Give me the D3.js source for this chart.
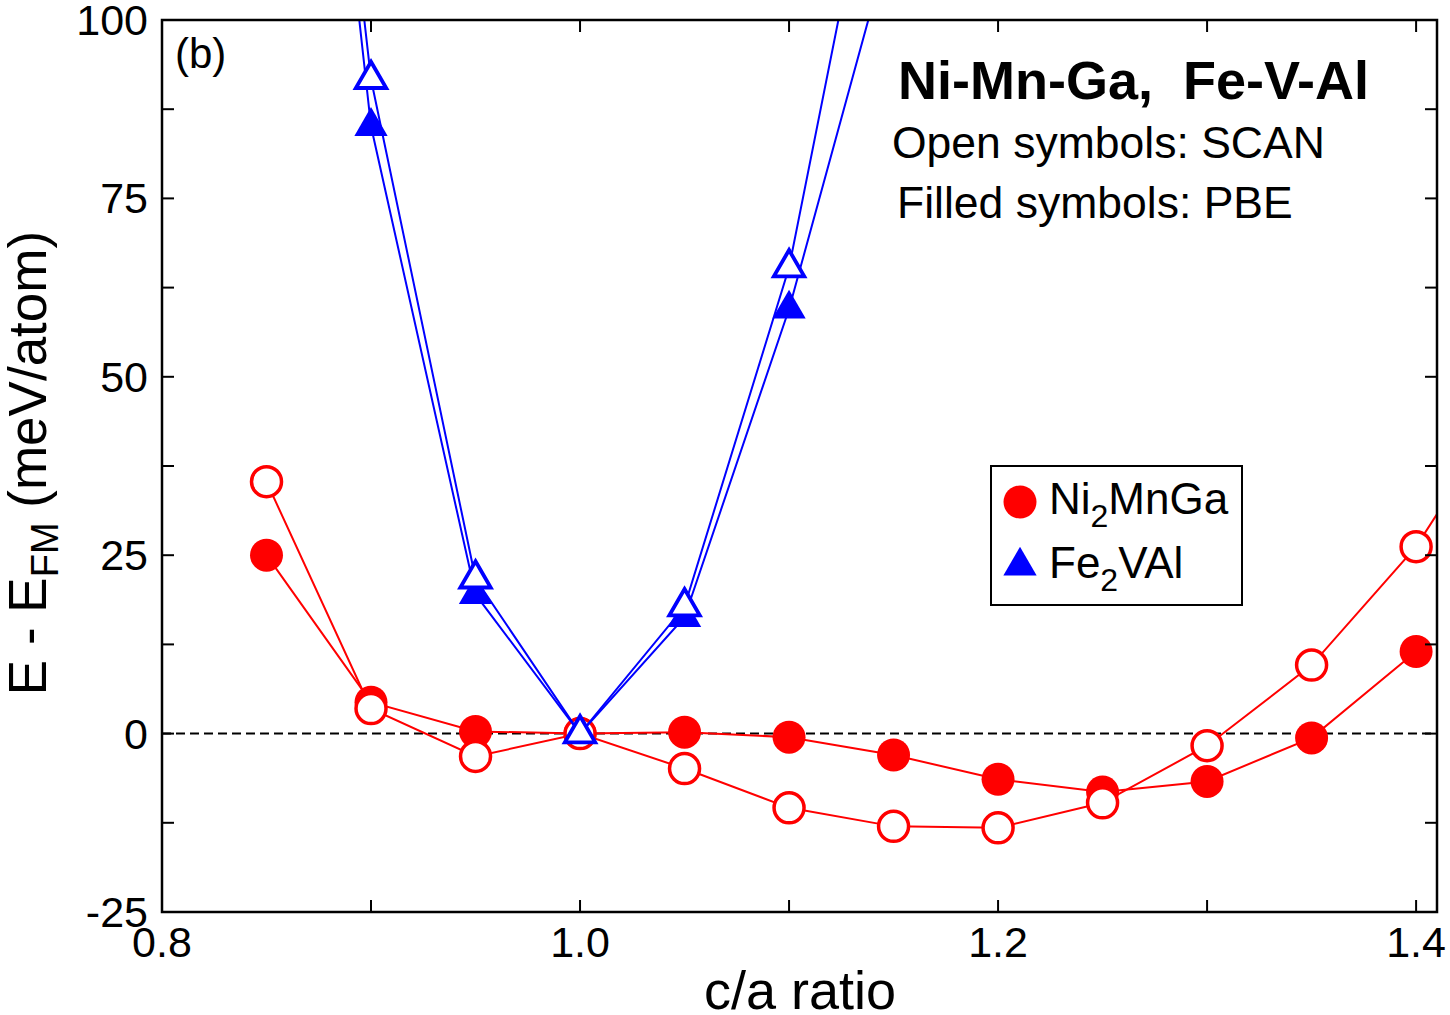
<!DOCTYPE html>
<head>
<script src="https://d3js.org/d3.v7.min.js"></script>
<meta charset="utf-8">
<style>
body { margin: 0; background: #fff; }
text { font-family: "Liberation Sans", Arial, Helvetica, sans-serif; fill: #000; }
</style>
</head>
<body>
<svg id="chart"></svg>
<script>

// data (E - E_FM in meV/atom)
var caNi = [0.85, 0.90, 0.95, 1.00, 1.05, 1.10, 1.15, 1.20, 1.25, 1.30, 1.35, 1.40, 1.45];
var niPBE = [25.0, 4.4, 0.3, 0, 0.2, -0.5, -3.0, -6.4, -8.2, -6.7, -0.6, 11.5];
var niSCAN = [35.3, 3.5, -3.2, 0, -4.9, -10.4, -13.0, -13.2, -9.7, -1.7, 9.6, 26.2, 49.0];

var caFe = [0.85, 0.90, 0.95, 1.00, 1.05, 1.10, 1.15];
var fePBE = [218, 85.1, 19.5, 0, 16.3, 59.5, 112.9];
var feSCAN = [221, 91.7, 21.7, 0, 17.8, 65.3, 138.8];

var xMajor = [0.8, 1.0, 1.2, 1.4];
var xAll = [0.8, 0.9, 1.0, 1.1, 1.2, 1.3, 1.4];
var yMajor = [-25, 0, 25, 50, 75, 100];
var yAll = [-25, -12.5, 0, 12.5, 25, 37.5, 50, 62.5, 75, 87.5, 100];

// chart parameters
var width = 1450, height = 1015;
var pLeft = 162, pRight = 1437, pTop = 20, pBottom = 912;
var red = "#ff0000", blue = "#0000ff";

var svg = d3.select("#chart")
    .attr("width", width)
    .attr("height", height);

var x = d3.scaleLinear().domain([0.8, 1.41]).range([pLeft, pRight]);
var y = d3.scaleLinear().domain([-25, 100]).range([pBottom, pTop]);

svg.append("clipPath").attr("id", "plotclip")
  .append("rect")
    .attr("x", pLeft).attr("y", pTop)
    .attr("width", pRight - pLeft).attr("height", pBottom - pTop);

// zero line
svg.append("line")
    .attr("x1", pLeft).attr("x2", pRight)
    .attr("y1", y(0)).attr("y2", y(0))
    .attr("stroke", "#000")
    .attr("stroke-width", 2)
    .attr("stroke-dasharray", "9,5");

var plot = svg.append("g").attr("clip-path", "url(#plotclip)");

function pairs(xs, ys) {
  return ys.map((v, i) => [xs[i], v]);
}

var line = d3.line().x(d => x(d[0])).y(d => y(d[1]));
var tri = d3.symbol().type(d3.symbolTriangle);

function drawSeries(pts, color, kind, open) {
  plot.append("path")
      .datum(pts)
      .attr("d", line)
      .attr("fill", "none")
      .attr("stroke", color)
      .attr("stroke-width", 2);
  var g = plot.append("g");
  if (kind == "circle") {
    g.selectAll("circle")
      .data(pts)
      .join("circle")
        .attr("cx", d => x(d[0]))
        .attr("cy", d => y(d[1]))
        .attr("r", open ? 15 : 16.5)
        .attr("fill", open ? "#fff" : color)
        .attr("stroke", open ? color : "none")
        .attr("stroke-width", 3.5);
  } else {
    g.selectAll("path")
      .data(pts)
      .join("path")
        .attr("transform", d => "translate(" + x(d[0]) + "," + y(d[1]) + ")")
        .attr("d", tri.size(open ? 400 : 480)())
        .attr("fill", open ? "#fff" : color)
        .attr("stroke", open ? color : "none")
        .attr("stroke-width", 3.8);
  }
}

drawSeries(pairs(caNi, niPBE), red, "circle", false);
drawSeries(pairs(caNi, niSCAN), red, "circle", true);
drawSeries(pairs(caFe, fePBE), blue, "triangle", false);
drawSeries(pairs(caFe, feSCAN), blue, "triangle", true);

// frame and ticks
svg.append("rect")
    .attr("x", pLeft).attr("y", pTop)
    .attr("width", pRight - pLeft).attr("height", pBottom - pTop)
    .attr("fill", "none")
    .attr("stroke", "#000")
    .attr("stroke-width", 2.5);

var tl = 12;
var ticks = svg.append("g").attr("stroke", "#000").attr("stroke-width", 2);
xAll.forEach(v => {
  ticks.append("line").attr("x1", x(v)).attr("x2", x(v)).attr("y1", pBottom).attr("y2", pBottom - tl);
  ticks.append("line").attr("x1", x(v)).attr("x2", x(v)).attr("y1", pTop).attr("y2", pTop + tl);
});
yAll.forEach(v => {
  ticks.append("line").attr("x1", pLeft).attr("x2", pLeft + tl).attr("y1", y(v)).attr("y2", y(v));
  ticks.append("line").attr("x1", pRight).attr("x2", pRight - tl).attr("y1", y(v)).attr("y2", y(v));
});

svg.append("g").selectAll("text")
  .data(xMajor)
  .join("text")
    .attr("x", d => x(d))
    .attr("y", 957)
    .attr("text-anchor", "middle")
    .attr("font-size", 43)
    .text(d => d3.format(".1f")(d));

svg.append("g").selectAll("text")
  .data(yMajor)
  .join("text")
    .attr("x", 148)
    .attr("y", d => y(d) + 15)
    .attr("text-anchor", "end")
    .attr("font-size", 43)
    .text(d => d);

// axis titles
svg.append("text")
    .attr("x", 800).attr("y", 1009)
    .attr("text-anchor", "middle")
    .attr("font-size", 54)
    .text("c/a ratio");

var yl = svg.append("text")
    .attr("transform", "translate(46,463) rotate(-90)")
    .attr("text-anchor", "middle")
    .attr("font-size", 53);
yl.append("tspan").text("E - E");
yl.append("tspan").attr("font-size", 38).attr("dy", 12).text("FM");
yl.append("tspan").attr("dy", -12).text(" (meV/atom)");

// annotations
svg.append("text").attr("x", 175).attr("y", 68).attr("font-size", 42).text("(b)");
svg.append("text").attr("x", 898).attr("y", 99).attr("font-size", 54)
    .attr("font-weight", "bold")
    .style("white-space", "pre").text("Ni-Mn-Ga,  Fe-V-Al");
svg.append("text").attr("x", 892).attr("y", 158).attr("font-size", 44.5).text("Open symbols: SCAN");
svg.append("text").attr("x", 897).attr("y", 218).attr("font-size", 44.5).text("Filled symbols: PBE");

// legend
var leg = svg.append("g");
leg.append("rect")
    .attr("x", 991).attr("y", 466)
    .attr("width", 251).attr("height", 139)
    .attr("fill", "#fff")
    .attr("stroke", "#000")
    .attr("stroke-width", 2);
leg.append("circle").attr("cx", 1020).attr("cy", 502).attr("r", 16.5).attr("fill", red);
leg.append("path")
    .attr("transform", "translate(1020,566)")
    .attr("d", tri.size(480)())
    .attr("fill", blue);

var t1 = leg.append("text").attr("x", 1049).attr("y", 514).attr("font-size", 44);
t1.append("tspan").text("Ni");
t1.append("tspan").attr("font-size", 32).attr("dy", 13).text("2");
t1.append("tspan").attr("dy", -13).text("MnGa");

var t2 = leg.append("text").attr("x", 1049).attr("y", 578).attr("font-size", 44);
t2.append("tspan").text("Fe");
t2.append("tspan").attr("font-size", 32).attr("dy", 13).text("2");
t2.append("tspan").attr("dy", -13).text("VAl");

</script>
</body>
